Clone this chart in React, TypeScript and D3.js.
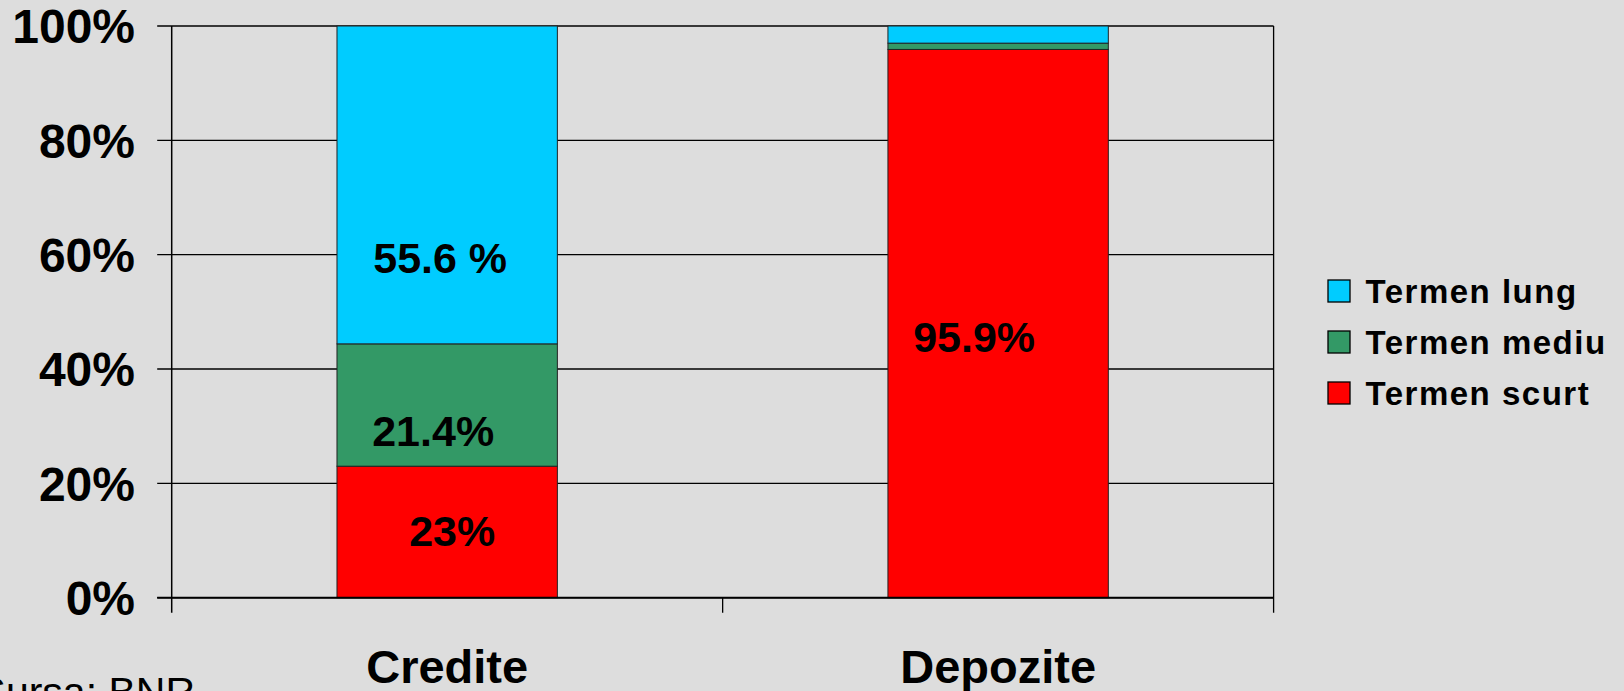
import React from "react";
import * as d3 from "d3";

const categories = ["Credite", "Depozite"];
const seriesNames = ["Termen scurt", "Termen mediu", "Termen lung"];
const termenScurt = [23, 95.9];
const termenMediu = [21.4, 1.1];
const termenLung = [55.6, 3.0];
const yTicks = [0, 20, 40, 60, 80, 100];
const yTickLabels = ["0%", "20%", "40%", "60%", "80%", "100%"];
const colors = ["#ff0000", "#339966", "#00ccff"];
// data labels: category, text, value-space baseline, pixel x-offset
const labelCats = ["Credite", "Credite", "Credite", "Depozite"];
const labelTexts = ["55.6 %", "21.4%", "23%", "95.9%"];
const labelVals = [56.8, 26.5, 9.0, 43.0];
const labelDx = [-7, -14, 5, -24];

const W = 1624;
const H = 691;
const FONT = "'Liberation Sans', Arial, sans-serif";

export default function App() {
  const left = 171.7;
  const right = 1273.6;
  const top = 26;
  const bottom = 597.7;
  const x = d3.scaleBand<string>().domain(categories).range([left, right]).paddingInner(0).paddingOuter(0);
  const y = d3.scaleLinear().domain([0, 100]).range([bottom, top]);
  const barW = x.bandwidth() * 0.4;

  const table = categories.map((c, i) => ({
    cat: c,
    "Termen scurt": termenScurt[i],
    "Termen mediu": termenMediu[i],
    "Termen lung": termenLung[i],
  }));
  const stack = d3.stack<any>().keys(seriesNames)(table);

  const legendOrder = [2, 1, 0];

  return (
    <div style={{ position: "fixed", left: 0, top: 0 }}>
      <svg width={W} height={H} style={{ display: "block" }}>
        <rect x={0} y={0} width={W} height={H} fill="#dddddd" />
        {/* gridlines */}
        {yTicks.map((t) => (
          <line key={"g" + t} x1={left - 14.5} x2={right} y1={y(t)} y2={y(t)} stroke="#000" strokeWidth={1.3} />
        ))}
        {/* right border */}
        <line x1={right} x2={right} y1={top} y2={bottom + 15} stroke="#000" strokeWidth={1.3} />
        {/* left axis */}
        <line x1={left} x2={left} y1={top} y2={bottom + 15} stroke="#000" strokeWidth={1.5} />
        {/* category separator ticks */}
        {categories.slice(1).map((c) => (
          <line key={"ct" + c} x1={x(c)!} x2={x(c)!} y1={bottom} y2={bottom + 15} stroke="#000" strokeWidth={1.3} />
        ))}
        {/* bars */}
        {stack.map((s, si) => (
          <g key={s.key}>
            {s.map((d, di) => (
              <rect
                key={di}
                x={x(categories[di])! + (x.bandwidth() - barW) / 2}
                y={y(d[1])}
                width={barW}
                height={y(d[0]) - y(d[1])}
                fill={colors[si]}
                stroke="#222"
                strokeWidth={1}
              />
            ))}
          </g>
        ))}
        {/* baseline */}
        <line x1={left - 14.5} x2={right} y1={bottom} y2={bottom} stroke="#000" strokeWidth={2} />
        {/* y tick labels */}
        {yTicks.map((t, i) => (
          <text
            key={"yl" + t}
            x={135}
            y={y(t)}
            dy="0.36em"
            textAnchor="end"
            fontFamily={FONT}
            fontWeight="bold"
            fontSize={48}
            fill="#000"
          >
            {yTickLabels[i]}
          </text>
        ))}
        {/* category labels */}
        {categories.map((c) => (
          <text
            key={"cl" + c}
            x={x(c)! + x.bandwidth() / 2}
            y={683}
            textAnchor="middle"
            fontFamily={FONT}
            fontWeight="bold"
            fontSize={47}
            fill="#000"
          >
            {c}
          </text>
        ))}
        {/* data labels */}
        {labelTexts.map((t, i) => (
          <text
            key={"dl" + i}
            x={x(labelCats[i])! + x.bandwidth() / 2 + labelDx[i]}
            y={y(labelVals[i])}
            textAnchor="middle"
            fontFamily={FONT}
            fontWeight="bold"
            fontSize={43}
            fill="#000"
          >
            {t}
          </text>
        ))}
        {/* legend */}
        {legendOrder.map((si, k) => (
          <g key={"lg" + si} transform={`translate(1328, ${280 + k * 51})`}>
            <rect x={0} y={0} width={22} height={22} fill={colors[si]} stroke="#000" strokeWidth={1.3} />
            <text
              x={37.5}
              y={11}
              dy="0.36em"
              fontFamily={FONT}
              fontWeight="bold"
              fontSize={33}
              letterSpacing={1.5}
              fill="#000"
            >
              {seriesNames[si]}
            </text>
          </g>
        ))}
        {/* source */}
        <text x={195} y={706} textAnchor="end" fontFamily={FONT} fontSize={41} fill="#000">
          Sursa: BNR
        </text>
      </svg>
    </div>
  );
}
